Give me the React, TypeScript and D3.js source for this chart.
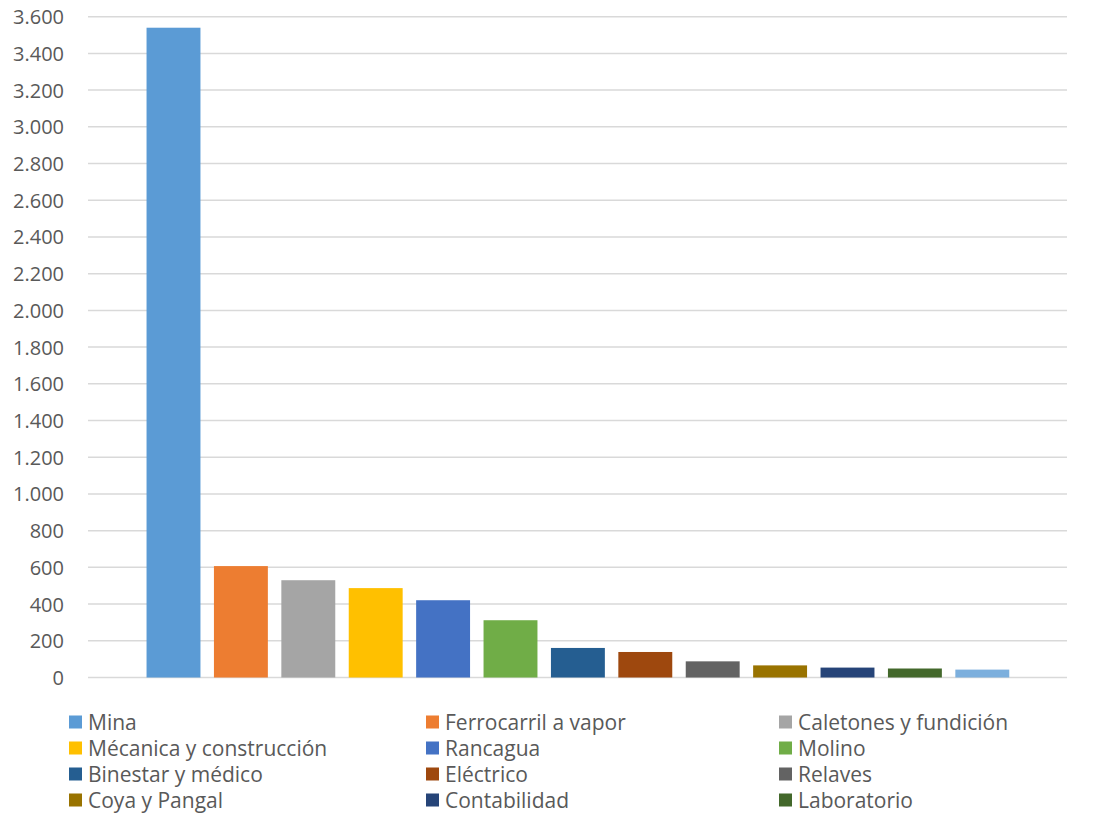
import React from "react";
import * as d3 from "d3";

const categories = [
  "Mina",
  "Ferrocarril a vapor",
  "Caletones y fundición",
  "Mécanica y construcción",
  "Rancagua",
  "Molino",
  "Binestar y médico",
  "Eléctrico",
  "Relaves",
  "Coya y Pangal",
  "Contabilidad",
  "Laboratorio",
  "Otros",
];
const values = [3540, 607, 530, 487, 421, 312, 161, 139, 88, 66, 54, 49, 43];
const colors = [
  "#5B9BD5", "#ED7D31", "#A5A5A5", "#FFC000", "#4472C4", "#70AD47",
  "#255E91", "#9E480E", "#636363", "#997300", "#264478", "#43682B", "#7CAFDD",
];
const yTicks = d3.range(0, 3601, 200);
const legendCount = 12;

const W = 1119;
const H = 814;
const plotLeft = 88;
const plotRight = 1067;
const plotTop = 16.7;
const plotBottom = 677.5;
const FONT = "'Open Sans', 'Noto Sans', sans-serif";
const TEXT = "#595959";

const fmt = (v: number) => d3.format(",")(v).replace(/,/g, ".");

export default function App() {
  const y = d3.scaleLinear().domain([0, 3600]).range([plotBottom, plotTop]);
  const x = d3
    .scaleBand<string>()
    .domain(categories)
    .range([139.8, 1016])
    .paddingInner(0.2)
    .paddingOuter(0.1);

  const legendCols = [69, 426, 779];
  const legendRows = [722, 748, 774, 800];

  return (
    <svg
      width={W}
      height={H}
      style={{ position: "absolute", left: 0, top: 0, background: "#fff" }}
      fontFamily={FONT}
    >
      <rect x={0} y={0} width={W} height={H} fill="#fff" />
      {yTicks.map((t) => (
        <g key={t}>
          <line
            x1={plotLeft}
            x2={plotRight}
            y1={y(t)}
            y2={y(t)}
            stroke="#D9D9D9"
            strokeWidth={1.5}
          />
          <text
            x={64}
            y={y(t)}
            textAnchor="end"
            dominantBaseline="central"
            fontSize={20}
            fill={TEXT}
          >
            {fmt(t)}
          </text>
        </g>
      ))}
      {categories.map((c, i) => (
        <rect
          key={c}
          x={x(c)}
          width={x.bandwidth()}
          y={y(values[i])}
          height={y(0) - y(values[i])}
          fill={colors[i]}
        />
      ))}
      {categories.slice(0, legendCount).map((c, i) => {
        const col = i % 3;
        const row = Math.floor(i / 3);
        const lx = legendCols[col];
        const ly = legendRows[row];
        return (
          <g key={c}>
            <rect x={lx} y={ly - 6.5} width={13} height={13} fill={colors[i]} />
            <text
              x={lx + 19}
              y={ly}
              dominantBaseline="central"
              fontSize={21}
              fill={TEXT}
            >
              {c}
            </text>
          </g>
        );
      })}
    </svg>
  );
}
